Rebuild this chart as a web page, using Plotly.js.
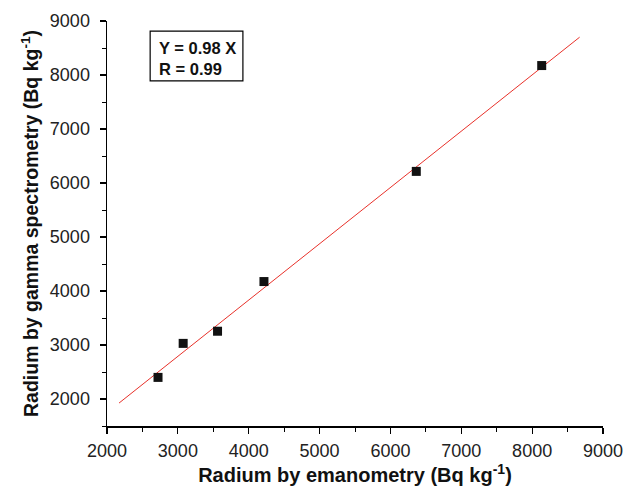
<!DOCTYPE html>
<html>
<head>
<meta charset="utf-8">
<script src="https://cdn.plot.ly/plotly-3.0.1.min.js"></script>
<style>html,body{margin:0;padding:0;background:#fff}#chart{width:629px;height:487px}</style>
</head>
<body>
<div id="chart"></div>
<script>
const emanometry = [2720, 3075, 3560, 4215, 6365, 8135];
const gammaSpec = [2400, 3030, 3255, 4175, 6215, 8175];
const fitX = [2170, 8670];
const fitY = [1925, 8700];
const xTicks = [2000, 3000, 4000, 5000, 6000, 7000, 8000, 9000];
const yTicks = [2000, 3000, 4000, 5000, 6000, 7000, 8000, 9000];

const font = "Liberation Sans, Arial, sans-serif";
const data = [
  {x: fitX, y: fitY, mode: 'lines', type: 'scatter', line: {color: '#e8312a', width: 1}, hoverinfo: 'skip'},
  {x: emanometry, y: gammaSpec, mode: 'markers', type: 'scatter', marker: {symbol: 'square', size: 9, color: '#111111'}}
];
const axisCommon = {
  showgrid: false, zeroline: false, showline: true, linecolor: '#000', linewidth: 1.5,
  ticks: 'outside', ticklen: 6, tickwidth: 1.2, tickcolor: '#000',
  tickfont: {family: font, size: 18, color: '#222'},
  minor: {ticks: 'outside', ticklen: 4, tickwidth: 1, tickcolor: '#000', dtick: 500}
};
const layout = {
  width: 629, height: 487,
  margin: {l: 107, r: 26, t: 21, b: 61},
  paper_bgcolor: '#fff', plot_bgcolor: '#fff',
  showlegend: false,
  xaxis: Object.assign({}, axisCommon, {
    range: [2000, 9000], tickvals: xTicks, ticktext: xTicks.map(String),
    ticklabelstandoff: 2,
    title: {text: '<b>Radium by emanometry (Bq kg<sup>-1</sup>)</b>', font: {family: font, size: 20, color: '#111'}, standoff: 5}
  }),
  yaxis: Object.assign({}, axisCommon, {
    range: [1500, 9000], tickvals: yTicks, ticktext: yTicks.map(String),
    ticklabelstandoff: 6,
    title: {text: '<b>Radium by gamma spectrometry (Bq kg<sup>-1</sup>)</b>', font: {family: font, size: 19.5, color: '#111'}, standoff: 6}
  }),
  shapes: [{type: 'rect', xref: 'paper', yref: 'paper', x0: 0.087, x1: 0.274, y0: 0.852, y1: 0.975, line: {color: '#000', width: 1.2}, fillcolor: 'rgba(0,0,0,0)'}],
  annotations: [{
    xref: 'paper', yref: 'paper', x: 0.1, y: 0.96, xanchor: 'left', yanchor: 'top', align: 'left', showarrow: false,
    text: '<b>Y = 0.98 X<br>R = 0.99</b>', font: {family: font, size: 16.5, color: '#111'}
  }]
};
Plotly.newPlot('chart', data, layout, {displayModeBar: false, staticPlot: true});
</script>
</body>
</html>
